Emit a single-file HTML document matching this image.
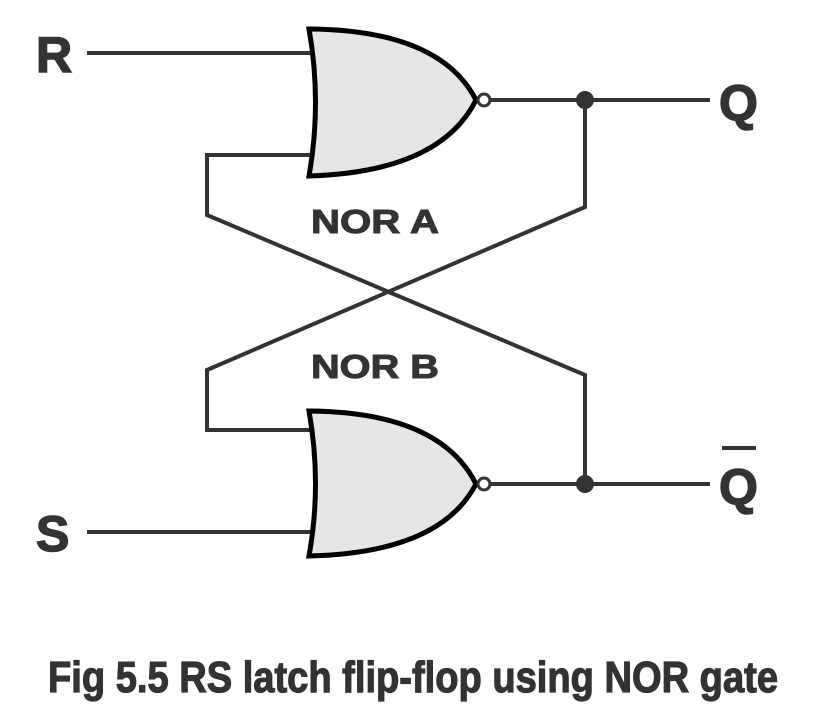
<!DOCTYPE html>
<html><head><style>html,body{margin:0;padding:0;background:#fff}svg{display:block}</style></head>
<body>
<svg width="815" height="720" viewBox="0 0 815 720" xmlns="http://www.w3.org/2000/svg">
<g stroke="#333" stroke-width="4" fill="none" stroke-linejoin="miter">
<line x1="87" y1="53" x2="314" y2="53"/>
<line x1="87" y1="532" x2="314" y2="532"/>
<line x1="490" y1="100" x2="710" y2="100"/>
<line x1="490" y1="484" x2="710" y2="484"/>
<polyline points="314,155 207,155 207,215 585,375 585,484"/>
<polyline points="314,430 207,430 207,370 585,207 585,100"/>
</g>
<g stroke="#000" stroke-width="5" fill="#e6e6e6" stroke-linejoin="miter">
<path d="M309,29 Q440,30 476,100 Q440,172 309,176 Q322,102 309,29 Z"/>
<path d="M309,411 Q440,412 476,484 Q440,553 309,556 Q322,484 309,411 Z"/>
</g>
<g stroke="#333" stroke-width="3" fill="#fff">
<circle cx="484" cy="100" r="6"/>
<circle cx="484" cy="484" r="6"/>
</g>
<circle cx="585" cy="100" r="9" fill="#333"/>
<circle cx="585" cy="484" r="9" fill="#333"/>
<g font-family="Liberation Sans, Arial, sans-serif" font-weight="bold" fill="#333" stroke="#333" stroke-width="1.5">
<text x="36" y="72" font-size="50">R</text>
<text x="36" y="551" font-size="50">S</text>
<text x="719" y="120" font-size="50">Q</text>
<text x="719" y="504" font-size="50">Q</text>
<rect x="722" y="446" width="34" height="4" stroke="none"/>
<text x="311" y="233" font-size="33" textLength="128" lengthAdjust="spacingAndGlyphs" stroke-width="1">NOR A</text>
<text x="311" y="378" font-size="33" textLength="128" lengthAdjust="spacingAndGlyphs" stroke-width="1">NOR B</text>
<text x="48" y="692" font-size="44" textLength="730" lengthAdjust="spacingAndGlyphs" stroke-width="1.2">Fig 5.5 RS latch flip-flop using NOR gate</text>
</g>
</svg>
</body></html>
